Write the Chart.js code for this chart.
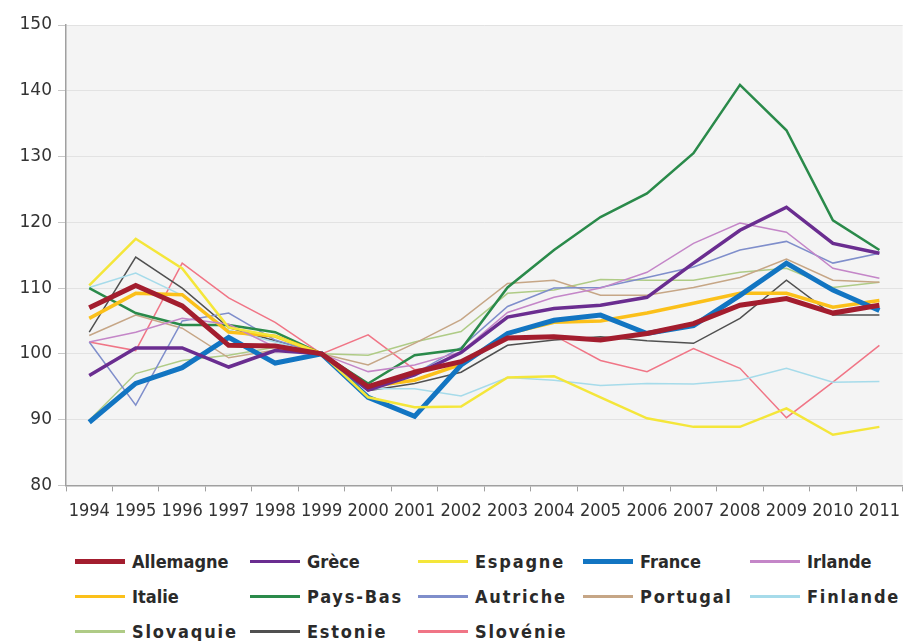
<!DOCTYPE html>
<html>
<head>
    <title>Indices 1994-2011</title>
    <script src="https://cdn.jsdelivr.net/npm/chart.js"></script>
    <style>
        body {
            margin: 0;
            background: #fff;
            width: 909px;
            height: 641px;
            overflow: hidden;
        }
        .chart-box {
            position: absolute;
            left: 0;
            top: 0;
            width: 909px;
            height: 531px;
        }
        .legend {
            position: absolute;
            left: 75px;
            top: 544px;
            display: grid;
            grid-template-columns: 175px 168px 165px 167px 159px;
            grid-auto-rows: 35px;
            font-family: "DejaVu Sans Condensed", "DejaVu Sans", sans-serif;
            font-weight: bold;
            font-size: 18px;
            color: #2a2a2a;
        }
        .legend-item {
            display: flex;
            align-items: center;
            white-space: nowrap;
        }
        .legend-swatch {
            width: 50px;
            margin-right: 7px;
            flex: none;
        }
    </style>
</head>
<body>
    <div class="chart-box">
        <canvas id="chart"></canvas>
    </div>
    <div class="legend" id="legend"></div>

    <script>
        const years = ['1994', '1995', '1996', '1997', '1998', '1999', '2000', '2001', '2002',
                       '2003', '2004', '2005', '2006', '2007', '2008', '2009', '2010', '2011'];

        const allemagne = [107, 110.4, 107.3, 101.3, 101.2, 100, 95, 97.2, 98.8, 102.4, 102.6, 102.1, 103.1, 104.6, 107.4, 108.4, 106.2, 107.4];
        const grece     = [96.7, 100.9, 100.9, 98, 100.5, 100, 94.5, 96.8, 100.2, 105.6, 106.9, 107.4, 108.6, 113.8, 118.8, 122.3, 116.8, 115.3];
        const espagne   = [110.4, 117.5, 113, 104, 102.7, 100, 93.4, 91.9, 92, 96.4, 96.6, 93.4, 90.2, 88.9, 88.9, 91.7, 87.7, 88.9];
        const france    = [89.6, 95.5, 97.9, 102.5, 98.6, 100, 93.4, 90.5, 98.3, 103.1, 105.1, 105.9, 103.1, 104.3, 108.9, 113.8, 109.7, 106.6];
        const irlande   = [101.8, 103.3, 105.4, 104.5, 101, 100, 97.3, 98.3, 100.3, 106.3, 108.6, 110, 112.4, 116.8, 119.9, 118.5, 113, 111.5];
        const italie    = [105.4, 109.2, 109, 103.3, 102.7, 100, 95, 96, 98.4, 103.1, 104.8, 105, 106.2, 107.7, 109.2, 109.2, 107.1, 108.1];
        const paysBas   = [110, 106.2, 104.4, 104.4, 103.3, 100, 95.5, 99.8, 100.7, 110.1, 115.8, 120.8, 124.4, 130.5, 140.9, 134, 120.3, 115.8];
        const autriche  = [101.8, 92.2, 105, 106.2, 102.1, 100, 95, 97, 101, 107.2, 110, 110.1, 111.6, 113.2, 115.8, 117.1, 113.8, 115.3];
        const portugal  = [102.8, 105.9, 103.9, 99.4, 100.6, 100, 98.3, 101.6, 105.2, 110.7, 111.2, 108.9, 108.9, 110.1, 111.6, 114.4, 111.2, 110.9];
        const finlande  = [110.1, 112.3, 108.9, 103.6, 101.8, 100, 94.7, 94.7, 93.6, 96.4, 96, 95.2, 95.5, 95.4, 96, 97.8, 95.7, 95.8];
        const slovaquie = [89.9, 97, 99, 99.8, 101, 100, 99.8, 101.8, 103.4, 109.2, 109.7, 111.3, 111.2, 111.2, 112.4, 113, 110.1, 110.9];
        const estonie   = [103.3, 114.7, 110, 104, 102, 100, 94.4, 95.5, 97.2, 101.3, 102.1, 102.6, 102, 101.6, 105.4, 111.2, 105.9, 105.9];
        const slovenie  = [101.8, 100.5, 113.8, 108.5, 104.8, 100, 102.9, 97.6, 98.5, 102.5, 102.8, 99, 97.3, 100.8, 97.8, 90.3, 95.7, 101.3];

        const yTicks = [80, 90, 100, 110, 120, 130, 140, 150];

        // labels printed with wide letter spacing in the original legend
        const spacedLabels = ['Espagne', 'Pays-Bas', 'Autriche', 'Portugal', 'Finlande', 'Slovaquie', 'Estonie', 'Slovénie'];

        function series(label, data, color, width) {
            return {
                label: label,
                data: data,
                borderColor: color,
                backgroundColor: color,
                borderWidth: width,
                pointRadius: 0,
                tension: 0,
                fill: false
            };
        }

        // grey plot background
        const plotBackground = {
            id: 'plotBackground',
            beforeDraw(chart) {
                const { ctx, chartArea } = chart;
                ctx.save();
                ctx.fillStyle = '#f4f4f4';
                ctx.fillRect(chartArea.left, chartArea.top,
                             chartArea.right - chartArea.left, chartArea.bottom - chartArea.top);
                ctx.restore();
            }
        };

        const chart = new Chart(document.getElementById('chart').getContext('2d'), {
            type: 'line',
            data: {
                labels: years,
                datasets: [
                    series('Allemagne', allemagne, '#a31d2e', 5),
                    series('Grèce', grece, '#6a2d90', 3.5),
                    series('Espagne', espagne, '#f4e63a', 2.5),
                    series('France', france, '#1275c2', 5),
                    series('Irlande', irlande, '#c486c8', 1.5),
                    series('Italie', italie, '#fbc01a', 3.5),
                    series('Pays-Bas', paysBas, '#2a8a4a', 2.5),
                    series('Autriche', autriche, '#7f8ecb', 1.5),
                    series('Portugal', portugal, '#c6a686', 1.5),
                    series('Finlande', finlande, '#a6dbea', 1.5),
                    series('Slovaquie', slovaquie, '#afcb86', 1.5),
                    series('Estonie', estonie, '#505050', 1.5),
                    series('Slovénie', slovenie, '#f07586', 1.5)
                ]
            },
            options: {
                responsive: true,
                maintainAspectRatio: false,
                animation: false,
                layout: {
                    padding: { top: 25, right: 0, bottom: 0, left: 0 }
                },
                plugins: {
                    legend: { display: false },
                    tooltip: { enabled: false }
                },
                scales: {
                    x: {
                        offset: true,
                        grid: {
                            offset: true,
                            drawOnChartArea: false,
                            drawTicks: true,
                            tickLength: 6,
                            tickColor: '#a0a0a0'
                        },
                        border: { color: '#a0a0a0', width: 1.5 },
                        ticks: {
                            autoSkip: false,
                            maxRotation: 0,
                            padding: 9,
                            color: '#333',
                            font: { family: '"DejaVu Sans Condensed", "DejaVu Sans", sans-serif', size: 18 }
                        }
                    },
                    y: {
                        min: yTicks[0],
                        max: yTicks[yTicks.length - 1],
                        afterBuildTicks(scale) {
                            scale.ticks = yTicks.map(v => ({ value: v }));
                        },
                        afterFit(scale) {
                            scale.width = 66;
                        },
                        grid: {
                            color: '#e2e2e2',
                            lineWidth: 1,
                            drawTicks: true,
                            tickLength: 8,
                            tickColor: '#c8c8c8'
                        },
                        border: { color: '#a0a0a0', width: 1.5 },
                        ticks: {
                            padding: 6,
                            color: '#333',
                            font: { family: '"DejaVu Sans", sans-serif', size: 17 }
                        }
                    }
                }
            },
            plugins: [plotBackground]
        });

        // HTML legend in a 5-column grid, built from the datasets
        const legend = document.getElementById('legend');
        chart.data.datasets.forEach(ds => {
            const item = document.createElement('div');
            item.className = 'legend-item';
            const swatch = document.createElement('div');
            swatch.className = 'legend-swatch';
            swatch.style.height = Math.max(2.5, ds.borderWidth) + 'px';
            swatch.style.background = ds.borderColor;
            const text = document.createElement('span');
            text.textContent = ds.label;
            if (spacedLabels.includes(ds.label)) {
                text.style.letterSpacing = '1.8px';
            }
            item.appendChild(swatch);
            item.appendChild(text);
            legend.appendChild(item);
        });
    </script>
</body>
</html>
